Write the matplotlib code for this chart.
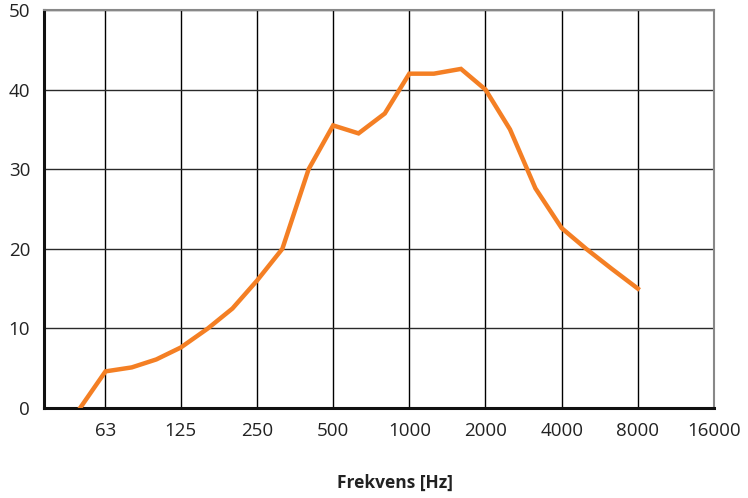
import matplotlib
matplotlib.use("Agg")
import matplotlib.pyplot as plt

# third-octave band centres and measured values
freqs = [50, 63, 80, 100, 125, 160, 200, 250, 315, 400, 500, 630, 800,
         1000, 1250, 1600, 2000, 2500, 3150, 4000, 5000, 6300, 8000]
values = [0, 4.6, 5.1, 6.1, 7.6, 10, 12.5, 16, 20, 30, 35.5, 34.5, 37,
          42, 42, 42.6, 40, 35, 27.6, 22.6, 20, 17.5, 15]

octave_ticks = [63, 125, 250, 500, 1000, 2000, 4000, 8000, 16000]
octave_labels = ["63", "125", "250", "500", "1000", "2000", "4000", "8000", "16000"]
y_ticks = [0, 10, 20, 30, 40, 50]

plt.rcParams["font.family"] = ["Open Sans", "DejaVu Sans"]

fig = plt.figure(figsize=(7.48, 4.98), dpi=100)
ax = fig.add_axes([44 / 748, 1 - 408 / 498, 670 / 748, 398 / 498])

ax.plot(freqs, values, color="#F47F24", lw=3.2, solid_joinstyle="miter", zorder=3)

ax.set_xscale("log")
ax.set_xlim(36, 16000)
ax.set_ylim(0, 50)
ax.set_xticks(octave_ticks)
ax.set_xticklabels(octave_labels)
ax.xaxis.set_minor_locator(matplotlib.ticker.NullLocator())
ax.set_yticks(y_ticks)

ax.grid(axis="x", color="black", lw=1)
ax.grid(axis="y", color="#2a2a2a", lw=1)
ax.set_axisbelow(True)

ax.tick_params(length=0, labelsize=13.5, colors="#222222")
ax.tick_params(axis="x", pad=10)
ax.tick_params(axis="y", pad=10)

ax.spines["left"].set_linewidth(2.2)
ax.spines["bottom"].set_linewidth(2.2)
ax.spines["left"].set_color("#111111")
ax.spines["bottom"].set_color("#111111")
ax.spines["top"].set_color("#888888")
ax.spines["right"].set_color("#888888")
ax.spines["top"].set_linewidth(1.5)
ax.spines["right"].set_linewidth(1.5)

fig.text(395 / 748, 1 - 483 / 498, "Frekvens [Hz]", ha="center", va="center",
         fontsize=12.5, fontweight="bold", color="#222222")

fig.savefig("out.png", dpi=100)
